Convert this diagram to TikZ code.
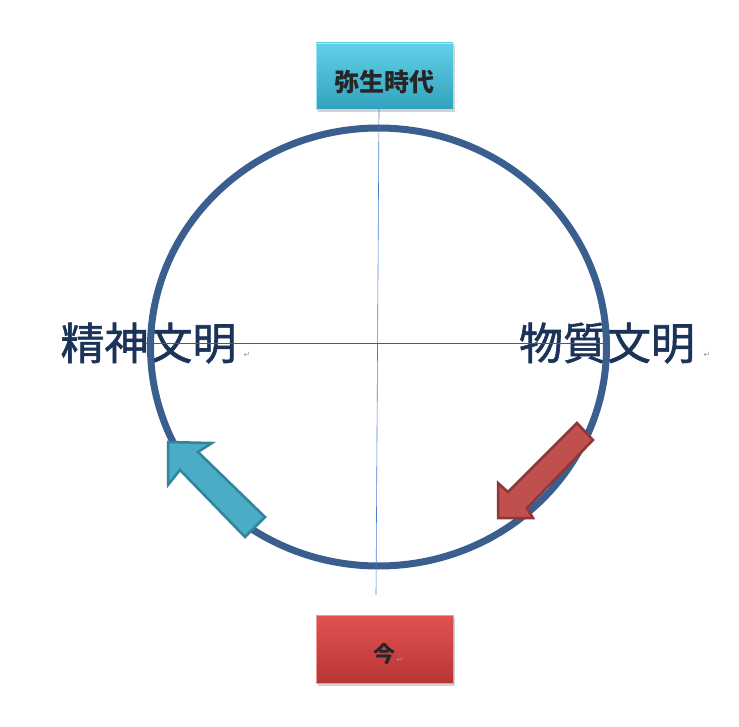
\documentclass[tikz,border=0pt]{standalone}
\usepackage{fontspec}
\newfontfamily\jpfont{Noto Sans CJK JP}
\newfontfamily\jpthick[FakeBold=1.3]{Noto Sans CJK JP}
\newfontfamily\symfont{DejaVu Sans}
\usetikzlibrary{shadows}

\definecolor{ringblue}{HTML}{3A5F8F}
\definecolor{axisblue}{HTML}{4A7FD0}
\definecolor{textnavy}{HTML}{1B3358}
\definecolor{cyanfill}{HTML}{4BACC6}
\definecolor{cyanedge}{HTML}{31849B}
\definecolor{redfill}{HTML}{C0504D}
\definecolor{rededge}{HTML}{8C3836}
\definecolor{cyantop}{HTML}{62D0E8}
\definecolor{cyanmid}{HTML}{3DB7D3}
\definecolor{cyanbot}{HTML}{31A3BE}
\definecolor{redtop}{HTML}{E25252}
\definecolor{redmid}{HTML}{D24141}
\definecolor{redbot}{HTML}{B83535}

\tikzset{
  era/.style={minimum width=137pt, inner sep=0pt, drop shadow={shadow xshift=2pt, shadow yshift=-3pt, opacity=0.35}},
  eratext/.style={font=\jpfont\bfseries\fontsize{25}{25}\selectfont, text=black!85, inner sep=0pt},
  bigtext/.style={font=\jpthick\fontsize{44}{44}\selectfont, text=textnavy, inner sep=0pt},
  retmark/.style={font=\symfont\fontsize{8}{8}\selectfont, text=black!40, inner sep=0pt}
}

\begin{document}
\begin{tikzpicture}[x=1pt,y=-1pt]
    \useasboundingbox (0,0) rectangle (739,727);

    % era boxes
    \node[era, minimum height=66pt, top color=cyantop, middle color=cyanmid, bottom color=cyanbot, draw=cyantop!60!white] (yayoi) at (384.5,76) {};
    \node[eratext] (yayoitext) at (384,82) {弥生時代};
    \node[retmark] (yayoiret) at (446,88) {↵};
    \node[era, minimum height=68pt, top color=redtop, middle color=redmid, bottom color=redbot, draw=redtop!60!white] (ima) at (384.5,649) {};
    \node[eratext, font=\jpfont\bfseries\fontsize{22}{22}\selectfont] (imatext) at (384,654) {今};
    \node[retmark] (imaret) at (400,660) {↵};

    % labels
    \node[bigtext] (seishin) at (148.5,343) {精神文明};
    \node[retmark] (seishinret) at (247,355) {↵};
    \node[bigtext] (busshitsu) at (607,343) {物質文明};
    \node[retmark] (busshitsuret) at (707,355) {↵};

    % ring
    \draw[ringblue, line width=7pt] (378.5,347) ellipse [x radius=228, y radius=219];

    % axes
    \coordinate (vtop) at (379,109);
    \coordinate (vbot) at (376,595);
    \coordinate (hleft) at (145,343);
    \coordinate (hright) at (610,343);
    \draw[axisblue, line width=0.6pt] (vtop) -- (vbot);
    \draw[ringblue, line width=0.6pt] (hleft) -- (hright);

    % block arrows
    \draw[cyanedge, fill=cyanfill, line width=2.5pt, line join=miter]
      (245,537) -- (265,517) -- (198,452) -- (212,443) -- (168,442)
      -- (168,485) -- (180,470) -- cycle;
    \draw[rededge, fill=redfill, line width=2.5pt, line join=miter]
      (577,423) -- (593,440) -- (527,508) -- (533,518) -- (498,518)
      -- (498,483) -- (508,492) -- cycle;
\end{tikzpicture}
\end{document}
